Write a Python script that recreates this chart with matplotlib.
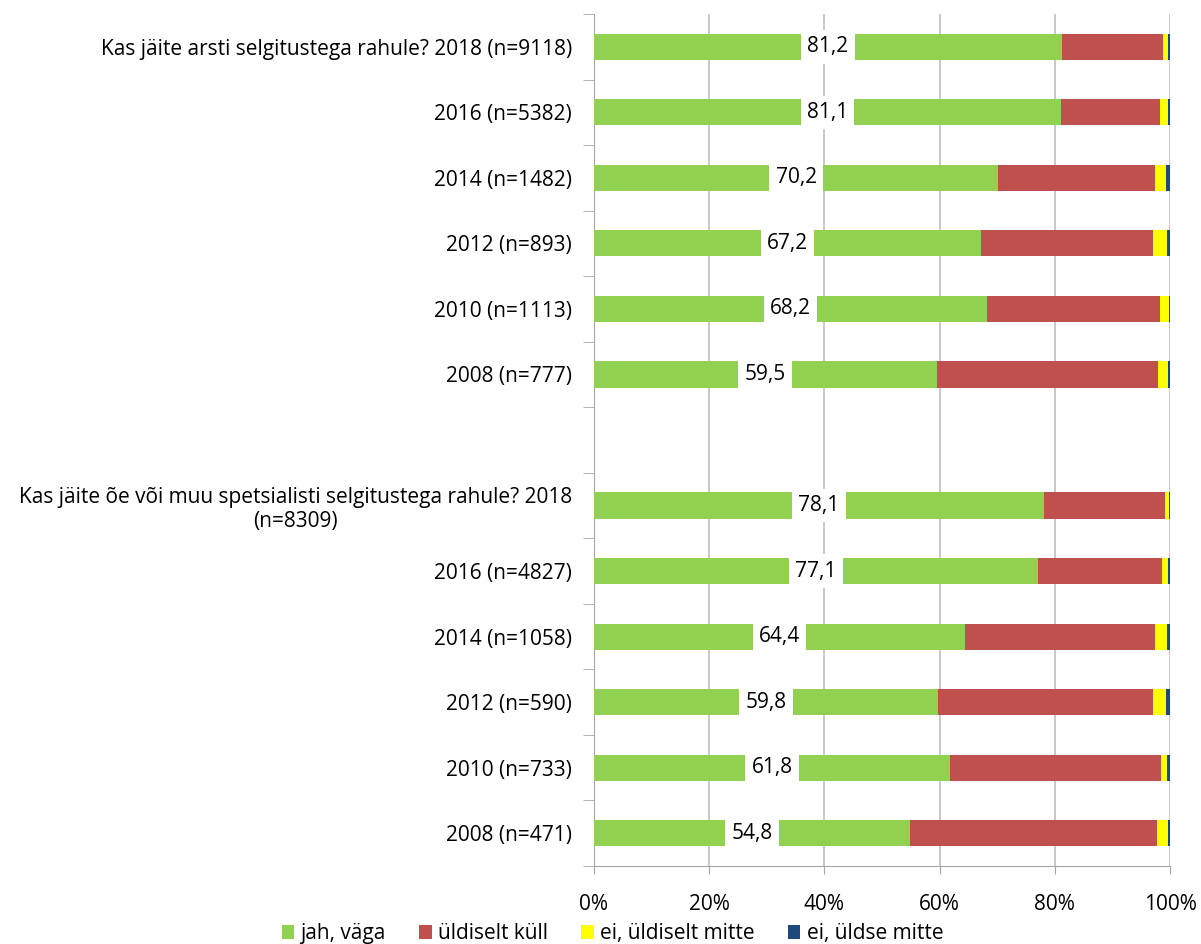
import numpy as np
import matplotlib.pyplot as plt

# row labels, top to bottom (empty string = spacer row)
row_labels = [
    "Kas jäite arsti selgitustega rahule? 2018 (n=9118)",
    "2016 (n=5382)",
    "2014 (n=1482)",
    "2012 (n=893)",
    "2010 (n=1113)",
    "2008 (n=777)",
    "",
    "Kas jäite õe või muu spetsialisti selgitustega rahule? 2018\n(n=8309)",
    "2016 (n=4827)",
    "2014 (n=1058)",
    "2012 (n=590)",
    "2010 (n=733)",
    "2008 (n=471)",
]

series_names = ["jah, väga", "üldiselt küll", "ei, üldiselt mitte", "ei, üldse mitte"]
colors = ["#92D050", "#C0504D", "#FFFF00", "#1F497D"]

jah_vaga = [81.2, 81.1, 70.2, 67.2, 68.2, 59.5, np.nan, 78.1, 77.1, 64.4, 59.8, 61.8, 54.8]
uldiselt_kull = [17.6, 17.2, 27.2, 29.9, 30.1, 38.4, np.nan, 21.0, 21.5, 33.0, 37.3, 36.6, 43.0]
ei_uldiselt = [0.9, 1.3, 1.85, 2.3, 1.5, 1.7, np.nan, 0.7, 1.0, 2.0, 2.15, 1.1, 1.8]
ei_uldse = [0.3, 0.4, 0.75, 0.6, 0.2, 0.4, np.nan, 0.2, 0.4, 0.6, 0.75, 0.5, 0.4]

plt.rcParams['font.family'] = ['Open Sans', 'DejaVu Sans']
fs = 15

fig = plt.figure(figsize=(12.01, 9.44), dpi=100)
ax = fig.add_axes([594 / 1201, 78 / 944, 576 / 1201, 852 / 944])

y = np.arange(len(row_labels))
data = [jah_vaga, uldiselt_kull, ei_uldiselt, ei_uldse]
left = np.zeros(len(y))
for vals, name, col in zip(data, series_names, colors):
    v = np.nan_to_num(np.array(vals, dtype=float))
    ax.barh(y, v, left=left, height=0.4, color=col, label=name, zorder=3)
    left += v

# value labels on green segment
for yi, val in zip(y, jah_vaga):
    if np.isnan(val):
        continue
    ax.text(val / 2, yi, f"{val:.1f}".replace(".", ","), ha='center', va='center',
            fontsize=fs, zorder=4,
            bbox=dict(facecolor='white', edgecolor='none', boxstyle='square,pad=0.3'))

ax.set_xlim(0, 100)
ax.set_ylim(len(y) - 0.5, -0.5)
ax.set_xticks([0, 20, 40, 60, 80, 100])
ax.set_xticklabels([f"{t}%" for t in [0, 20, 40, 60, 80, 100]], fontsize=fs)
ax.set_yticks(y)
ax.set_yticklabels(row_labels, fontsize=fs, multialignment='center')
ax.set_yticks(np.arange(-0.5, len(y)), minor=True)
ax.tick_params(axis='y', which='major', length=0, pad=16)
ax.tick_params(axis='y', which='minor', length=8, color='#a6a6a6')
ax.tick_params(axis='x', length=6, color='#a6a6a6', pad=14)

ax.grid(axis='x', color='#bfbfbf', linewidth=1.2, zorder=0)
for s in ['top', 'right']:
    ax.spines[s].set_visible(False)
ax.spines['left'].set_color('#a6a6a6')
ax.spines['bottom'].set_color('#a6a6a6')

fig.legend(loc='lower center', bbox_to_anchor=(0.51, -0.02), ncol=4, frameon=False,
           fontsize=fs, handlelength=0.6, handleheight=0.7, handletextpad=0.3,
           columnspacing=1.6)

fig.savefig('out.png', dpi=100)
